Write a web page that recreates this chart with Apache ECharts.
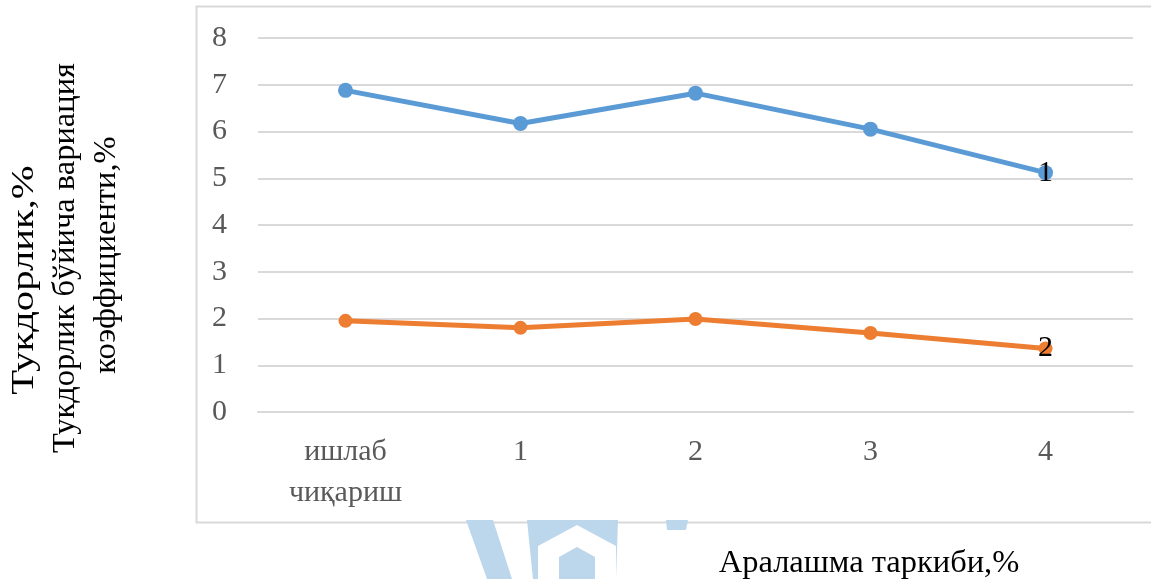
<!DOCTYPE html>
<html>
<head>
<meta charset="utf-8">
<script src="https://cdn.jsdelivr.net/npm/echarts@6/dist/echarts.min.js"></script>
<style>
  html, body { margin: 0; padding: 0; background: #ffffff; }
  #chart { width: 1151px; height: 579px; }
</style>
</head>
<body>
<div id="chart"></div>
<script>
// Mix composition categories (x axis)
const categories = ['ишлаб\nчиқариш', '1', '2', '3', '4'];
// Curve 1: hairiness, %
const hairiness = [6.88, 6.17, 6.82, 6.05, 5.12];
// Curve 2: coefficient of variation of hairiness, %
const hairinessCv = [1.95, 1.80, 1.99, 1.69, 1.36];
// Curve numbers shown at the last point
const curveNames = ['1', '2'];
const yTitleLines = ['Тукдорлик,%', 'Тукдорлик бўйича вариация', 'коэффициенти,%'];
const xTitle = 'Аралашма таркиби,%';

const serif = '"Liberation Serif", "DejaVu Serif", serif';
const chart = echarts.init(document.getElementById('chart'), null, { renderer: 'canvas' });

function endLabel(name) {
  return {
    show: true,
    position: 'inside',
    formatter: (p) => (p.dataIndex === categories.length - 1 ? name : ''),
    color: '#000000',
    fontFamily: serif,
    fontSize: 30
  };
}

const titleFont = '32.5px ' + serif;

chart.setOption({
  animation: false,
  backgroundColor: '#ffffff',
  grid: { left: 258, right: 18, top: 38, bottom: 167 },
  xAxis: {
    type: 'category',
    data: categories,
    boundaryGap: true,
    axisLine: { show: true, lineStyle: { color: '#d9d9d9', width: 2 } },
    axisTick: { show: false },
    axisLabel: {
      color: '#595959',
      fontFamily: serif,
      fontSize: 30,
      lineHeight: 41,
      margin: 20,
      interval: 0
    }
  },
  yAxis: {
    type: 'value',
    min: 0,
    max: 8,
    interval: 1,
    axisLine: { show: false },
    axisTick: { show: false },
    splitLine: { lineStyle: { color: '#d9d9d9', width: 2 } },
    axisLabel: {
      color: '#595959',
      fontFamily: serif,
      fontSize: 30,
      margin: 31
    }
  },
  series: [
    {
      type: 'line',
      data: hairiness,
      symbol: 'circle',
      symbolSize: 15,
      lineStyle: { color: '#5b9bd5', width: 5 },
      itemStyle: { color: '#5b9bd5' },
      label: endLabel(curveNames[0]),
      z: 3
    },
    {
      type: 'line',
      data: hairinessCv,
      symbol: 'circle',
      symbolSize: 14,
      lineStyle: { color: '#ed7d31', width: 5 },
      itemStyle: { color: '#ed7d31' },
      label: endLabel(curveNames[1]),
      z: 3
    }
  ],
  graphic: [
    // faint logo behind the chart frame
    {
      type: 'group', z: -10, silent: true,
      children: [
        { type: 'polygon', shape: { points: [[466, 520], [493, 520], [512, 579], [487, 579]] }, style: { fill: '#bcd6eb' } },
        { type: 'polygon', shape: { points: [[527, 520], [618, 520], [616, 579], [533, 579]] }, style: { fill: '#bcd6eb' } },
        { type: 'polygon', shape: { points: [[577, 525], [616, 546], [616, 579], [538, 579], [538, 546]] }, style: { fill: '#ffffff' } },
        { type: 'polygon', shape: { points: [[577, 547], [595, 557], [595, 579], [559, 579], [559, 557]] }, style: { fill: '#bcd6eb' } },
        { type: 'polygon', shape: { points: [[666, 520], [688, 520], [686, 530], [667, 530]] }, style: { fill: '#bcd6eb' } }
      ]
    },
    // chart area frame
    {
      type: 'rect', z: -5, silent: true,
      shape: { x: 196.5, y: 6.5, width: 1000, height: 516 },
      style: { fill: '#ffffff', stroke: '#d9d9d9', lineWidth: 2 }
    },
    // y axis title, three rotated lines
    {
      type: 'text', x: 24, y: 280, rotation: Math.PI / 2, scaleX: 1.25,
      style: { text: yTitleLines[0], x: 0, y: 0, align: 'center', verticalAlign: 'middle', fill: '#000000', font: titleFont }
    },
    {
      type: 'text', x: 65, y: 258, rotation: Math.PI / 2,
      style: { text: yTitleLines[1], x: 0, y: 0, align: 'center', verticalAlign: 'middle', fill: '#000000', font: titleFont }
    },
    {
      type: 'text', x: 106, y: 255, rotation: Math.PI / 2,
      style: { text: yTitleLines[2], x: 0, y: 0, align: 'center', verticalAlign: 'middle', fill: '#000000', font: titleFont }
    },
    // x axis title
    {
      type: 'text', x: 869, y: 563,
      style: { text: xTitle, x: 0, y: 0, align: 'center', verticalAlign: 'middle', fill: '#000000', font: titleFont }
    }
  ]
});
</script>
</body>
</html>
